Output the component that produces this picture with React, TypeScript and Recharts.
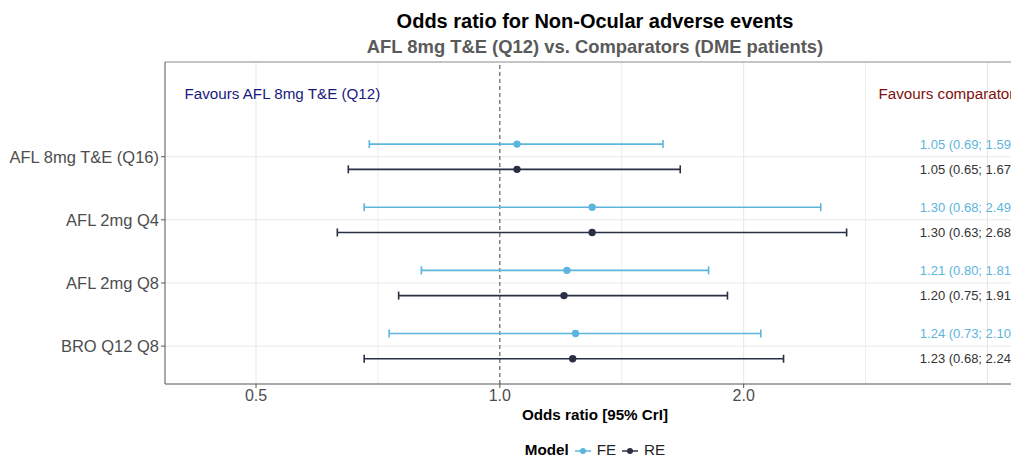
import { ErrorBar, ReferenceLine, Scatter, ScatterChart, XAxis, YAxis } from 'recharts'

// comparators, top to bottom
const categories = ['AFL 8mg T&E (Q16)', 'AFL 2mg Q4', 'AFL 2mg Q8', 'BRO Q12 Q8']

const feEstimate = [1.05, 1.3, 1.21, 1.24]
const feLower = [0.69, 0.68, 0.8, 0.73]
const feUpper = [1.59, 2.49, 1.81, 2.1]

const reEstimate = [1.05, 1.3, 1.2, 1.23]
const reLower = [0.65, 0.63, 0.75, 0.68]
const reUpper = [1.67, 2.68, 1.91, 2.24]

const xTicks = [0.5, 1, 2]
const xGridMajor = [0.5, 2, 4]
const xGridMinor = [Math.SQRT1_2, Math.SQRT2, 2 * Math.SQRT2]

const FE_COLOR = '#5cb5dc'
const RE_COLOR = '#2a2f44'
const FONT = '"Liberation Sans", Arial, sans-serif'

const LABEL_X = 3.3
const FAVOURS_ROW = categories.length + 1
const X_DOMAIN = [0.386, 4.45]
const Y_DOMAIN = [0.4, 5.5]

const positions = categories.map((_, i) => categories.length - i)
const fmt = (v: number) => v.toFixed(2)

const buildRows = (est: number[], lo: number[], hi: number[], offset: number) =>
  categories.map((name, i) => ({
    name,
    x: est[i],
    y: positions[i] + offset,
    err: [est[i] - lo[i], hi[i] - est[i]],
    label: `${fmt(est[i])} (${fmt(lo[i])}; ${fmt(hi[i])})`,
  }))

const feRows = buildRows(feEstimate, feLower, feUpper, 0.2)
const reRows = buildRows(reEstimate, reLower, reUpper, -0.2)
const feLabels = feRows.map((r) => ({ ...r, x: LABEL_X }))
const reLabels = reRows.map((r) => ({ ...r, x: LABEL_X }))

const favours = [
  { x: 0.408, y: FAVOURS_ROW, label: 'Favours AFL 8mg T&E (Q12)', color: '#1a1a7e' },
  { x: 2.934, y: FAVOURS_ROW, label: 'Favours comparator', color: '#7e1010' },
]

const dot = (color: string) => (p: any) => <circle cx={p.cx} cy={p.cy} r={3.7} fill={color} />

const textShape = (color: string | null, size: number) => (p: any) => (
  <text
    x={p.cx}
    y={p.cy}
    dominantBaseline="central"
    fontSize={size}
    fontFamily={FONT}
    fill={color ?? p.payload.color}
  >
    {p.payload.label}
  </text>
)

function LegendKey({ color }: { color: string }) {
  return (
    <svg width={18} height={12} style={{ verticalAlign: 'middle', margin: '0 5px' }}>
      <line x1={1} x2={17} y1={6} y2={6} stroke={color} strokeWidth={1.5} />
      <circle cx={9} cy={6} r={3} fill={color} />
    </svg>
  )
}

export default function App() {
  return (
    <div
      style={{
        position: 'fixed',
        left: 0,
        top: 0,
        width: 1011,
        height: 458,
        overflow: 'hidden',
        background: '#fff',
        fontFamily: FONT,
      }}
    >
      <div style={{ position: 'absolute', left: 0, width: 1190, top: 9, textAlign: 'center' }}>
        <div style={{ fontSize: 20, fontWeight: 'bold', color: '#000', lineHeight: '25px' }}>
          Odds ratio for Non-Ocular adverse events
        </div>
        <div style={{ fontSize: 18.4, fontWeight: 'bold', color: '#5a5a5a', lineHeight: '25px' }}>
          AFL 8mg T&amp;E (Q12) vs. Comparators (DME patients)
        </div>
      </div>

      <div style={{ position: 'absolute', left: 0, top: 0 }}>
        <ScatterChart width={1040} height={458} margin={{ top: 62, right: 15, bottom: 0, left: 0 }}>
          {xGridMinor.map((v) => (
            <ReferenceLine key={`mn${v}`} x={v} stroke="#eeeeee" strokeWidth={1} />
          ))}
          {xGridMajor.map((v) => (
            <ReferenceLine key={`mj${v}`} x={v} stroke="#e6e6e6" strokeWidth={1} />
          ))}
          {positions.map((v) => (
            <ReferenceLine key={`h${v}`} y={v} stroke="#e9e9e9" strokeWidth={1} />
          ))}
          <ReferenceLine y={Y_DOMAIN[1]} stroke="#8a8a8a" strokeWidth={1} />
          <ReferenceLine x={1} stroke="#444" strokeWidth={1} strokeDasharray="4 3" />
          <XAxis
            type="number"
            dataKey="x"
            scale="log"
            domain={X_DOMAIN}
            allowDataOverflow
            ticks={xTicks}
            tickFormatter={(v: number) => v.toFixed(1)}
            height={74}
            tickSize={4}
            axisLine={{ stroke: '#555' }}
            tickLine={{ stroke: '#555' }}
            tick={{ fill: '#4d4d4d', fontSize: 16, fontFamily: FONT }}
          />
          <YAxis
            type="number"
            dataKey="y"
            domain={Y_DOMAIN}
            allowDataOverflow
            ticks={positions}
            tickFormatter={(v: number) => categories[categories.length - v] ?? ''}
            width={165}
            tickSize={4}
            axisLine={{ stroke: '#555' }}
            tickLine={{ stroke: '#555' }}
            tick={{ fill: '#4d4d4d', fontSize: 16.5, fontFamily: FONT }}
          />
          <Scatter data={feRows} shape={dot(FE_COLOR)} isAnimationActive={false}>
            <ErrorBar dataKey="err" direction="x" width={4} stroke={FE_COLOR} strokeWidth={1.6} />
          </Scatter>
          <Scatter data={reRows} shape={dot(RE_COLOR)} isAnimationActive={false}>
            <ErrorBar dataKey="err" direction="x" width={4} stroke={RE_COLOR} strokeWidth={1.6} />
          </Scatter>
          <Scatter data={feLabels} shape={textShape(FE_COLOR, 13)} isAnimationActive={false} />
          <Scatter data={reLabels} shape={textShape('#333', 13)} isAnimationActive={false} />
          <Scatter data={favours} shape={textShape(null, 15.2)} isAnimationActive={false} />
        </ScatterChart>
      </div>

      <div
        style={{
          position: 'absolute',
          left: 0,
          width: 1190,
          top: 406,
          textAlign: 'center',
          fontSize: 15.2,
          fontWeight: 'bold',
          color: '#000',
        }}
      >
        Odds ratio [95% CrI]
      </div>
      <div
        style={{
          position: 'absolute',
          left: 0,
          width: 1190,
          top: 440,
          textAlign: 'center',
          fontSize: 15.2,
          color: '#222',
          lineHeight: '19px',
        }}
      >
        <b style={{ color: '#000' }}>Model</b>
        <LegendKey color={FE_COLOR} />
        FE
        <LegendKey color={RE_COLOR} />
        RE
      </div>
    </div>
  )
}
